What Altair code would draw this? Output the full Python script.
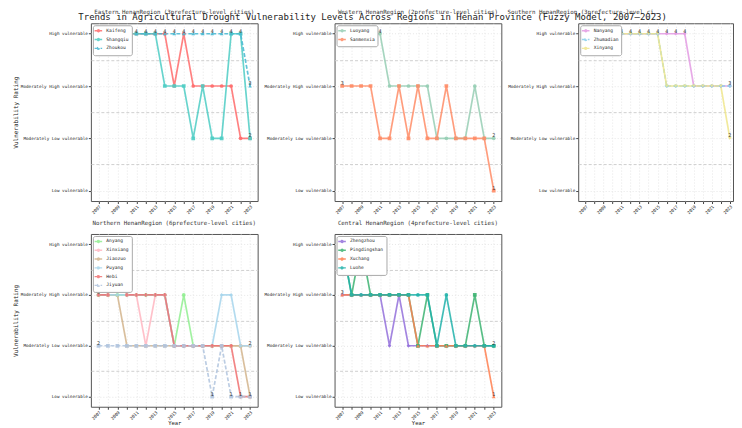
import altair as alt
import pandas as pd

MONO = "DejaVu Sans Mono"

years = [2007, 2008, 2009, 2010, 2011, 2012, 2013, 2014, 2015,
         2016, 2017, 2018, 2019, 2020, 2021, 2022, 2023]
level_values = [1, 2, 3, 4]
level_names = ["Low vulnerable", "Moderately Low vulnerable",
               "Moderately High vulnerable", "High vulnerable"]

main_title = ("Trends in Agricultural Drought Vulnerability Levels Across Regions "
              "in Henan Province (Fuzzy Model, 2007\u20132023)")

# ---------------- Eastern ----------------
eastern_title = "Eastern HenanRegion (3prefecture-level cities)"
eastern_cities = ["Kaifeng", "Shangqiu", "Zhoukou"]
kaifeng = [4, 4, 4, 4, 4, 4, 4, 4, 3, 4, 3, 3, 3, 3, 3, 2, 2]
shangqiu = [4, 4, 4, 4, 4, 4, 4, 3, 3, 3, 2, 3, 2, 2, 4, 4, 2]
zhoukou = [4, 4, 4, 4, 4, 4, 4, 4, 4, 4, 4, 4, 4, 4, 4, 4, 3]
eastern_values = [kaifeng, shangqiu, zhoukou]
eastern_colors = ["#FF6B6B", "#4ECDC4", "#45B7D1"]
eastern_shapes = ["circle", "square", "triangle-up"]
eastern_dashes = [[1, 0], [1, 0], [4, 2]]

# ---------------- Western ----------------
western_title = "Western HenanRegion (2prefecture-level cities)"
western_cities = ["Luoyang", "Sanmenxia"]
luoyang = [4, 4, 4, 4, 4, 3, 3, 3, 3, 3, 2, 2, 2, 2, 3, 2, 2]
sanmenxia = [3, 3, 3, 3, 2, 2, 3, 2, 3, 2, 2, 3, 2, 2, 2, 2, 1]
western_values = [luoyang, sanmenxia]
western_colors = ["#96CEB4", "#FF8C66"]
western_shapes = ["circle", "square"]
western_dashes = [[1, 0], [1, 0]]

# ---------------- Southern ----------------
southern_title = "Southern HenanRegion (3prefecture-level cities)"
southern_cities = ["Nanyang", "Zhumadian", "Xinyang"]
nanyang = [4, 4, 4, 4, 4, 4, 4, 4, 4, 4, 4, 4, 3, 3, 3, 3, 3]
zhumadian = [4, 4, 4, 4, 4, 4, 4, 4, 4, 3, 3, 3, 3, 3, 3, 3, 3]
xinyang = [4, 4, 4, 4, 4, 4, 4, 4, 4, 3, 3, 3, 3, 3, 3, 3, 2]
southern_values = [nanyang, zhumadian, xinyang]
southern_colors = ["#E39BE3", "#87CEEB", "#F0E68C"]
southern_shapes = ["diamond", "cross", "triangle-down"]
southern_dashes = [[1, 0], [4, 2], [1, 0]]

# ---------------- Northern ----------------
northern_title = "Northern HenanRegion (6prefecture-level cities)"
northern_cities = ["Anyang", "Xinxiang", "Jiaozuo", "Puyang", "Hebi", "Jiyuan"]
anyang = [3, 3, 3, 3, 3, 3, 3, 3, 2, 3, 2, 2, 2, 2, 2, 2, 2]
xinxiang = [4, 3, 4, 3, 3, 2, 3, 3, 2, 2, 2, 2, 2, 2, 2, 2, 2]
jiaozuo = [3, 3, 3, 2, 2, 2, 2, 2, 2, 2, 2, 2, 2, 2, 2, 2, 1]
puyang = [3, 3, 3, 3, 3, 3, 3, 3, 2, 2, 2, 2, 2, 3, 3, 2, 2]
hebi = [3, 3, 4, 3, 3, 3, 3, 3, 2, 2, 2, 2, 2, 2, 2, 1, 1]
jiyuan = [2, 2, 2, 2, 2, 2, 2, 2, 2, 2, 2, 2, 1, 2, 1, 1, 1]
northern_values = [anyang, xinxiang, jiaozuo, puyang, hebi, jiyuan]
northern_colors = ["#90EE90", "#FFB6C1", "#D2B48C", "#A6D5EC", "#F07070", "#B0C4DE"]
northern_shapes = ["circle", "circle", "triangle-up", "diamond", "cross", "square"]
northern_dashes = [[1, 0], [1, 0], [1, 0], [1, 0], [1, 0], [4, 2]]

# ---------------- Central ----------------
central_title = "Central HenanRegion (4prefecture-level cities)"
central_cities = ["Zhengzhou", "Pingdingshan", "Xuchang", "Luohe"]
zhengzhou = [3, 3, 3, 3, 3, 2, 3, 2, 2, 2, 2, 2, 2, 2, 2, 2, 2]
pingdingshan = [4, 3, 4, 3, 3, 3, 3, 3, 2, 3, 2, 2, 2, 2, 3, 2, 2]
xuchang = [3, 3, 3, 3, 3, 3, 3, 3, 2, 2, 2, 2, 2, 2, 2, 2, 1]
luohe = [4, 3, 3, 3, 3, 3, 3, 3, 3, 3, 2, 3, 2, 2, 2, 2, 2]
central_values = [zhengzhou, pingdingshan, xuchang, luohe]
central_colors = ["#9370DB", "#3CB371", "#FF7F50", "#20B2AA"]
central_shapes = ["diamond", "square", "triangle-up", "circle"]
central_dashes = [[1, 0], [1, 0], [1, 0], [1, 0]]

label_expr = " : ".join(
    f"datum.value === {v} ? '{n}'" for v, n in zip(level_values, level_names)
) + " : ''"

LEGEND_SYMBOL = "M-1.7,0H1.7M0.45,0A0.45,0.45,0,1,1,-0.45,0A0.45,0.45,0,1,1,0.45,0"


def make_panel(title, cities, values, colors, shapes, dashes, y_title, x_title,
               width=167, height=178, x_max=2023.8, title_anchor="middle",
               title_limit=0):
    recs = []
    for city, vals in zip(cities, values):
        for k, (yr, v) in enumerate(zip(years, vals)):
            recs.append(dict(Year=yr, Level=v, City=city,
                             edge=(k == 0 or k == len(years) - 1)))
    df = pd.DataFrame(recs)
    lab = df[(df.Level.isin([1, 4])) | df.edge].drop_duplicates(["Year", "Level"])

    legend = alt.Legend(
        title=None, orient="top-left", offset=2, padding=2.5,
        labelFont=MONO, labelFontSize=4.6, labelColor="#222",
        symbolType=LEGEND_SYMBOL, symbolSize=20, symbolStrokeWidth=1.4,
        rowPadding=0.8, labelOffset=5, fillColor="white",
        strokeColor="#aaaaaa", cornerRadius=2)
    x = alt.X("Year:Q",
              scale=alt.Scale(domain=[2006.2, x_max], nice=False, zero=False),
              axis=alt.Axis(values=years, format="d", labelAngle=-45,
                            title="Year" if x_title else None))
    y = alt.Y("Level:Q",
              scale=alt.Scale(domain=[0.8, 4.2], nice=False, zero=False),
              axis=alt.Axis(values=[1, 1.5, 2, 2.5, 3, 3.5, 4], labelExpr=label_expr,
                            title="Vulnerability Rating" if y_title else None,
                            tickOpacity={"condition": {"test": "datum.value % 1 !== 0", "value": 0}, "value": 1},
                            gridColor={"condition": {"test": "datum.value % 1 !== 0", "value": "#cfcfcf"}, "value": "#e6e6e6"},
                            gridDash={"condition": {"test": "datum.value % 1 !== 0", "value": [3, 2]}, "value": [1, 2]}))
    color = alt.Color("City:N", scale=alt.Scale(domain=cities, range=colors), legend=legend)
    dash = alt.StrokeDash("City:N", scale=alt.Scale(domain=cities, range=dashes), legend=legend)
    base = alt.Chart(df)
    lines = base.mark_line(strokeWidth=1.7, opacity=0.85, clip=True).encode(
        x=x, y=y, color=color, strokeDash=dash)
    layers = [lines]
    for city, col, shp in zip(cities, colors, shapes):
        layers.append(
            base.transform_filter(alt.datum.City == city)
            .mark_point(filled=True, size=14, opacity=0.9, clip=True, shape=shp, color=col)
            .encode(x=x, y=y))
    txt = alt.Chart(lab).mark_text(fontSize=5, dy=-3, color="#333", font=MONO, clip=True).encode(
        x=x, y=y, text=alt.Text("Level:Q", format="d"))
    layers.append(txt)
    tparams = dict(font=MONO, fontSize=5.8, fontWeight="normal",
                   color="#333", offset=8, anchor=title_anchor)
    if title_limit:
        tparams["limit"] = title_limit
    return alt.layer(*layers).properties(
        width=width, height=height, title=alt.TitleParams(title, **tparams))


p1 = make_panel(eastern_title, eastern_cities, eastern_values, eastern_colors,
                eastern_shapes, eastern_dashes, True, False)
p2 = make_panel(western_title, western_cities, western_values, western_colors,
                western_shapes, western_dashes, False, False)
p3 = make_panel(southern_title, southern_cities, southern_values, southern_colors,
                southern_shapes, southern_dashes, False, False,
                width=155, x_max=2023.35, title_anchor="start", title_limit=152)
p4 = make_panel(northern_title, northern_cities, northern_values, northern_colors,
                northern_shapes, northern_dashes, True, True, height=173)
p5 = make_panel(central_title, central_cities, central_values, central_colors,
                central_shapes, central_dashes, False, True, height=173)

ind = dict(color="independent", strokeDash="independent")

top = alt.hconcat(p1, p2, p3, spacing=77, bounds="flush").resolve_scale(**ind).resolve_legend(**ind)
bottom = alt.hconcat(p4, p5, spacing=77, bounds="flush").resolve_scale(**ind).resolve_legend(**ind)

chart = alt.vconcat(top, bottom, spacing=3).resolve_scale(**ind).resolve_legend(**ind).properties(
    title=alt.TitleParams(main_title, font=MONO, fontSize=9, fontWeight="normal",
                          color="#222", offset=-13, anchor="middle"),
    padding={"left": 3, "top": 0, "right": 0, "bottom": 0},
).configure_view(
    stroke="#555", strokeWidth=1
).configure_axis(
    labelFont=MONO, labelFontSize=4.3, labelColor="#222", labelPadding=1,
    tickSize=2.5, tickColor="#444", domain=False,
    titleFont=MONO, titleFontSize=6, titleFontWeight="normal", titleColor="#222",
    titlePadding=2, grid=True, gridColor="#e6e6e6", gridDash=[1, 2]
).configure_axisX(titlePadding=0, titleFontSize=5.5)

chart.save("out.html", embed_options={"renderer": "svg", "actions": False})
